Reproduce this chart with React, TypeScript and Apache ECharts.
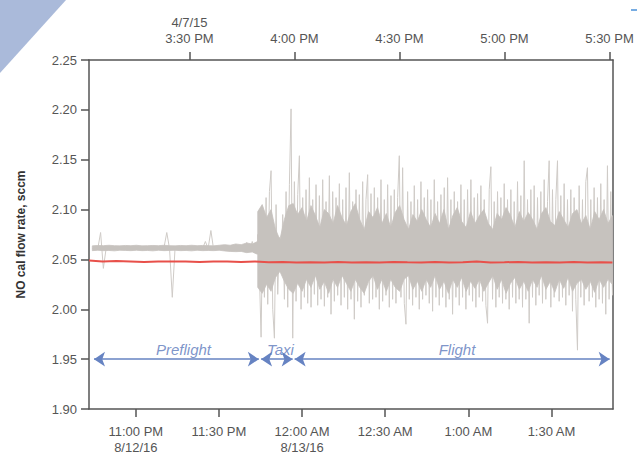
import React, { useEffect, useRef } from "react";
import * as echarts from "echarts";

// Bottom axis: minutes after 10:00 PM (8/12/16)
const bottomTickValues = [60, 90, 120, 150, 180, 210];
const bottomTickLabels = ["11:00 PM\n8/12/16", "11:30 PM", "12:00 AM\n8/13/16", "12:30 AM", "1:00 AM", "1:30 AM"];
// Top axis: minutes after 3:00 PM (4/7/15)
const topTickValues = [30, 60, 90, 120, 150];
const topTickLabels = ["4/7/15\n3:30 PM", "4:00 PM", "4:30 PM", "5:00 PM", "5:30 PM"];

// Gray raw flow, preflight segment (sampled ~1 min, 44.3 to 104)
const preflightStart = 44.3;
const preflightEnd = 104.0;
const preflightValues = [
  2.061, 2.061, 2.061, 2.077, 2.041, 2.061, 2.061, 2.062, 2.061, 2.061,
  2.061, 2.062, 2.061, 2.061, 2.061, 2.062, 2.061, 2.061, 2.061, 2.061,
  2.062, 2.061, 2.061, 2.061, 2.061, 2.061, 2.062, 2.077, 2.061, 2.012,
  2.061, 2.061, 2.061, 2.061, 2.062, 2.061, 2.061, 2.061, 2.061, 2.062,
  2.061, 2.068, 2.061, 2.079, 2.060, 2.061, 2.061, 2.062, 2.061, 2.061,
  2.061, 2.062, 2.061, 2.061, 2.064, 2.059, 2.067, 2.058, 2.068, 2.057,
  2.070,
];
// Dense core of the preflight trace (sampled ~2 min)
const preflightLower = [
  2.0588, 2.0592, 2.0588, 2.059, 2.0586, 2.0592, 2.059, 2.0588, 2.0592, 2.0588,
  2.059, 2.0586, 2.0592, 2.0588, 2.059, 2.0592, 2.0588, 2.059, 2.0586, 2.0592,
  2.0588, 2.059, 2.0588, 2.0592, 2.0585, 2.058, 2.0578, 2.058, 2.0568, 2.0575,
  2.055,
];
const preflightUpper = [
  2.0636, 2.064, 2.0638, 2.0642, 2.0638, 2.0636, 2.064, 2.0638, 2.0642, 2.0636,
  2.0638, 2.064, 2.0638, 2.0642, 2.0638, 2.0636, 2.064, 2.0638, 2.0642, 2.0638,
  2.064, 2.0638, 2.0636, 2.0642, 2.0648, 2.0642, 2.0655, 2.0648, 2.0665, 2.0655,
  2.068,
];

// Gray raw flow, taxi + flight segment (sampled ~0.6 min, 104 to 232)
const flightStart = 104.0;
const flightEnd = 232.0;
const flightValues = [
  2.075, 2.035, 1.972, 2.090, 2.012, 2.112, 2.005, 2.118, 2.139, 2.000,
  1.971, 2.105, 2.015, 2.072, 2.040, 2.095, 2.010, 2.118, 2.002, 2.125,
  2.201, 1.971, 2.128, 2.008, 2.115, 2.154, 2.000, 2.112, 2.012, 2.120,
  2.006, 2.132, 2.002, 2.110, 2.015, 2.125, 2.004, 2.114, 2.010, 2.130,
  2.003, 2.108, 2.012, 2.134, 1.995, 2.118, 2.008, 2.112, 2.014, 2.126,
  2.004, 2.110, 2.012, 2.122, 2.000, 2.137, 2.010, 2.108, 1.990, 2.120,
  2.008, 2.115, 2.002, 2.128, 2.014, 2.110, 2.135, 2.006, 2.116, 2.010,
  2.122, 2.012, 2.112, 2.000, 2.130, 2.008, 2.110, 2.014, 2.125, 2.002,
  2.114, 2.010, 2.120, 2.006, 2.112, 2.154, 2.012, 2.142, 2.006, 1.985,
  2.118, 2.010, 2.108, 2.004, 2.124, 2.012, 2.110, 2.000, 2.128, 2.010,
  2.112, 2.014, 2.120, 2.006, 2.110, 1.998, 2.130, 2.012, 2.108, 2.004,
  2.115, 2.012, 2.122, 2.002, 2.132, 2.010, 2.110, 1.995, 2.118, 2.012,
  2.108, 2.004, 2.125, 2.012, 2.110, 2.000, 2.120, 2.014, 2.130, 2.008,
  2.112, 2.002, 2.116, 2.012, 2.124, 2.008, 2.110, 2.004, 1.986, 2.120,
  2.143, 2.010, 2.108, 2.002, 2.118, 2.012, 2.112, 2.006, 2.126, 2.010,
  2.110, 2.000, 2.120, 2.012, 2.108, 2.006, 2.128, 2.010, 2.114, 2.002,
  2.149, 2.010, 2.110, 1.986, 2.120, 2.012, 2.124, 2.004, 2.112, 2.014,
  2.118, 2.006, 2.130, 2.010, 2.108, 2.149, 2.002, 2.120, 2.012, 2.110,
  2.149, 2.008, 2.114, 2.012, 2.126, 2.004, 2.110, 2.014, 2.120, 1.998,
  2.112, 2.010, 1.959, 2.124, 2.012, 2.110, 2.004, 2.128, 2.142, 2.008,
  2.110, 2.012, 2.122, 2.002, 2.112, 2.010, 2.126, 2.006, 2.110, 1.995,
  2.144, 2.010, 2.118, 2.014,
];
// Dense core of the taxi + flight trace (sampled ~1.6 min)
const flightLower = [
  2.022, 2.016, 2.025, 2.018, 2.032, 2.038, 2.028, 2.020, 2.016, 2.026,
  2.018, 2.030, 2.022, 2.034, 2.020, 2.028, 2.016, 2.030, 2.022, 2.034,
  2.026, 2.018, 2.030, 2.022, 2.016, 2.028, 2.034, 2.020, 2.030, 2.018,
  2.030, 2.022, 2.018, 2.030, 2.034, 2.020, 2.028, 2.018, 2.030, 2.022,
  2.034, 2.020, 2.028, 2.016, 2.030, 2.022, 2.032, 2.018, 2.028, 2.021,
  2.030, 2.018, 2.026, 2.034, 2.020, 2.030, 2.016, 2.026, 2.032, 2.020,
  2.028, 2.018, 2.030, 2.022, 2.034, 2.020, 2.028, 2.017, 2.030, 2.021,
  2.032, 2.018, 2.026, 2.030, 2.020, 2.028, 2.017, 2.030, 2.022, 2.030,
  2.025,
];
const flightUpper = [
  2.098, 2.105, 2.092, 2.100, 2.080, 2.070, 2.090, 2.104, 2.106, 2.095,
  2.102, 2.088, 2.104, 2.094, 2.082, 2.100, 2.096, 2.086, 2.104, 2.092,
  2.084, 2.098, 2.106, 2.090, 2.080, 2.098, 2.092, 2.102, 2.086, 2.096,
  2.082, 2.097, 2.104, 2.090, 2.080, 2.095, 2.088, 2.100, 2.090, 2.082,
  2.096, 2.086, 2.100, 2.080, 2.094, 2.102, 2.088, 2.082, 2.098, 2.086,
  2.094, 2.100, 2.086, 2.080, 2.096, 2.090, 2.102, 2.094, 2.082, 2.098,
  2.088, 2.097, 2.090, 2.080, 2.096, 2.102, 2.088, 2.084, 2.098, 2.090,
  2.082, 2.096, 2.100, 2.086, 2.094, 2.080, 2.098, 2.090, 2.100, 2.086,
  2.094,
];

// Red cal flow line
const redTimes = [43.1, 48, 53, 58, 63, 68, 73, 78, 83, 88, 93, 98, 103, 108, 113, 118, 123, 128, 133, 138, 143, 148, 153, 158, 163, 168, 173, 178, 183, 188, 193, 198, 203, 208, 213, 218, 223, 228, 232];
const redValues = [2.049, 2.048, 2.0485, 2.048, 2.0475, 2.048, 2.0478, 2.048, 2.0475, 2.048, 2.0478, 2.0475, 2.048, 2.0472, 2.0475, 2.047, 2.0472, 2.047, 2.0475, 2.047, 2.0472, 2.047, 2.0475, 2.0472, 2.047, 2.0475, 2.047, 2.0472, 2.0478, 2.047, 2.0472, 2.0475, 2.047, 2.0472, 2.047, 2.0475, 2.047, 2.0472, 2.047];

// Phase annotations (bottom-axis minutes)
const phaseNames = ["Preflight", "Taxi", "Flight"];
const phaseStarts = [44.9, 105.2, 117.3];
const phaseEnds = [104.4, 116.6, 231.0];
const phaseLabelX = [77.2, 112.2, 175.9];
const phaseLevel = 1.95;
const phaseLabelLevel = 1.96;

const FONT = "'Liberation Sans', Arial, sans-serif";
const CORE_GRAY = "#c6c2be";
const SPIKE_GRAY = "#cfcbc7";

function sampled(start: number, end: number, values: number[]) {
  const step = (end - start) / (values.length - 1);
  return values.map((v, i) => [start + i * step, v]);
}

function lookup(values: number[], labels: string[]) {
  return (v: number) => {
    for (let i = 0; i < values.length; i++) if (Math.abs(values[i] - v) < 1e-6) return labels[i];
    return "";
  };
}

export default function App() {
  const ref = useRef<HTMLDivElement>(null);
  useEffect(() => {
    document.body.style.margin = "0";
    if (!ref.current) return;
    const chart = echarts.init(ref.current, undefined, { renderer: "svg" });
    const axisColor = "#555";
    const grayData = [...sampled(preflightStart, preflightEnd, preflightValues), ...sampled(flightStart, flightEnd, flightValues)];
    const lowers = [...sampled(preflightStart, preflightEnd, preflightLower), ...sampled(flightStart, flightEnd, flightLower)];
    const uppers = [...sampled(preflightStart, preflightEnd, preflightUpper), ...sampled(flightStart, flightEnd, flightUpper)];
    const bandRows = lowers.map((p, i) => [p[0], p[1], uppers[i][1]]);
    const redData = redTimes.map((t, i) => [t, redValues[i]]);
    const arrowColor = "#6683c2";
    const option: any = {
      animation: false,
      backgroundColor: "#fff",
      grid: { left: 89, right: 24, top: 60, bottom: 47, outerBoundsMode: "none", containLabel: false },
      xAxis: [
        {
          type: "value",
          position: "bottom",
          min: 43.1,
          max: 232.2,
          axisLine: { show: true, onZero: false, lineStyle: { color: axisColor, width: 1.5 } },
          axisTick: { show: true, inside: false, length: 8, customValues: bottomTickValues, lineStyle: { color: axisColor, width: 1.5 } },
          axisLabel: {
            show: true,
            customValues: bottomTickValues,
            formatter: lookup(bottomTickValues, bottomTickLabels),
            color: "#555",
            fontFamily: FONT,
            fontSize: 13,
            lineHeight: 16,
            margin: 14,
          },
          splitLine: { show: false },
        },
        {
          type: "value",
          position: "top",
          min: 1.3,
          max: 151,
          axisLine: { show: true, onZero: false, lineStyle: { color: axisColor, width: 1.5 } },
          axisTick: { show: true, inside: false, length: 8, customValues: topTickValues, lineStyle: { color: axisColor, width: 1.5 } },
          axisLabel: {
            show: true,
            customValues: topTickValues,
            formatter: lookup(topTickValues, topTickLabels),
            color: "#555",
            fontFamily: FONT,
            fontSize: 13,
            lineHeight: 16,
            margin: 14,
          },
          splitLine: { show: false },
        },
      ],
      yAxis: [
        {
          type: "value",
          min: 1.9,
          max: 2.25,
          interval: 0.05,
          position: "left",
          name: "NO cal flow rate, sccm",
          nameLocation: "middle",
          nameGap: 62,
          nameTextStyle: { color: "#333", fontFamily: FONT, fontSize: 12, fontWeight: "bold" },
          axisLine: { show: true, onZero: false, lineStyle: { color: axisColor, width: 1.5 } },
          axisTick: { show: true, inside: false, length: 8, lineStyle: { color: axisColor, width: 1.5 } },
          axisLabel: { color: "#555", fontFamily: FONT, fontSize: 13, margin: 12, formatter: (v: number) => v.toFixed(2) },
          splitLine: { show: false },
        },
        {
          type: "value",
          min: 1.9,
          max: 2.25,
          position: "right",
          axisLine: { show: true, onZero: false, lineStyle: { color: axisColor, width: 1.5 } },
          axisTick: { show: false },
          axisLabel: { show: false },
          splitLine: { show: false },
        },
      ],
      series: [
        {
          type: "line",
          name: "raw",
          xAxisIndex: 0,
          yAxisIndex: 0,
          data: grayData,
          showSymbol: false,
          symbol: "none",
          lineStyle: { color: SPIKE_GRAY, width: 1 },
          z: 1,
        },
        {
          type: "custom",
          name: "core",
          xAxisIndex: 0,
          yAxisIndex: 0,
          data: bandRows,
          encode: { x: 0, y: [1, 2] },
          renderItem: (params: any, api: any) => {
            if (params.dataIndex !== 0) return null;
            const top = bandRows.map((r) => api.coord([r[0], r[2]]));
            const bottom = bandRows.map((r) => api.coord([r[0], r[1]])).reverse();
            return {
              type: "polygon",
              shape: { points: [...top, ...bottom] },
              style: { fill: CORE_GRAY, stroke: CORE_GRAY, lineWidth: 0.8 },
            };
          },
          z: 2,
        },
        {
          type: "line",
          name: "cal",
          xAxisIndex: 0,
          yAxisIndex: 0,
          data: redData,
          showSymbol: false,
          symbol: "none",
          lineStyle: { color: "#e8504a", width: 2 },
          z: 3,
          markLine: {
            silent: true,
            symbol: ["arrow", "arrow"],
            symbolSize: 11,
            label: { show: false },
            lineStyle: { color: arrowColor, width: 1.5, type: "solid" },
            itemStyle: { color: arrowColor },
            data: phaseNames.map((_, i) => [
              { coord: [phaseStarts[i], phaseLevel] },
              { coord: [phaseEnds[i], phaseLevel] },
            ]),
          },
        },
        {
          type: "scatter",
          name: "phases",
          xAxisIndex: 0,
          yAxisIndex: 0,
          symbolSize: 0,
          data: phaseNames.map((n, i) => ({ name: n, value: [phaseLabelX[i], phaseLabelLevel] })),
          label: {
            show: true,
            position: "inside",
            formatter: "{b}",
            color: "#5c79bb",
            fontFamily: FONT,
            fontSize: 15,
            fontStyle: "italic",
          },
          z: 5,
        },
        {
          type: "line",
          name: "topAxis",
          xAxisIndex: 1,
          yAxisIndex: 1,
          data: [],
        },
      ],
      graphic: [
        { type: "polygon", shape: { points: [[0, 0], [66, 0], [0, 73]] }, style: { fill: "#aabada" }, z: 10 },
        { type: "line", shape: { x1: 631, y1: 10, x2: 637, y2: 10 }, style: { stroke: "#4a90d9", lineWidth: 1.5 }, z: 10 },
      ],
    };
    chart.setOption(option);
    return () => chart.dispose();
  }, []);
  return <div ref={ref} style={{ width: 637, height: 456, position: "fixed", left: 0, top: 0 }} />;
}
